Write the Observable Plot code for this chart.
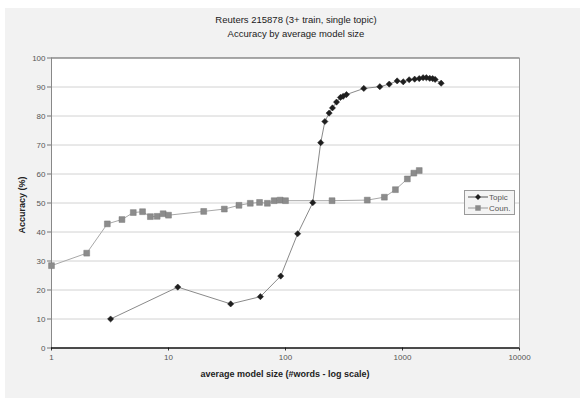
<!DOCTYPE html>
<html>
<head>
<meta charset="utf-8">
<script src="https://cdn.jsdelivr.net/npm/d3@7"></script>
<script src="https://cdn.jsdelivr.net/npm/@observablehq/plot@0.6"></script>
<style>
  html, body { margin: 0; padding: 0; background: #ffffff; width: 580px; height: 398px; overflow: hidden; font-family: "Liberation Sans", Arial, sans-serif; }
  #panel { position: absolute; left: 5px; top: 8px; right: 0; bottom: 0; background: #f2f2f2; }
  #title { position: absolute; left: 0; width: 592px; top: 13px; text-align: center; font-size: 9.5px; line-height: 13.5px; color: #1a1a1a; }
  #chart { position: absolute; left: 0; top: 40px; }
  #xlabel { position: absolute; left: 0; width: 570px; top: 369px; text-align: center; font-size: 9px; font-weight: bold; color: #222; }
  #ylabel { position: absolute; left: 22px; top: 205px; transform: translate(-50%, -50%) rotate(-90deg); font-size: 9px; font-weight: bold; color: #222; white-space: nowrap; }
  #legend { position: absolute; left: 464px; top: 190px; width: 49px; height: 23px; border: 1px solid #9a9a9a; background: #f4f4f4; }
</style>
</head>
<body>
<div id="panel"></div>
<div id="title">Reuters 215878 (3+ train, single topic)<br>Accuracy by average model size</div>
<div id="chart"></div>
<div id="xlabel">average model size (#words - log scale)</div>
<div id="ylabel">Accuracy (%)</div>
<div id="legend"></div>
<script>
// Data
const topicSize = [3.2, 12, 34, 61, 91, 127, 171, 200, 217, 236, 252, 273, 295, 311, 332, 467, 640, 770, 900, 1015, 1140, 1270, 1390, 1500, 1600, 1710, 1810, 1900, 2140];
const topicAcc  = [10, 21, 15.2, 17.7, 24.8, 39.4, 50.1, 70.8, 78.1, 81, 82.8, 84.8, 86.4, 86.8, 87.4, 89.5, 90.1, 91, 92.1, 91.8, 92.5, 92.7, 92.9, 93.2, 93.2, 93, 92.9, 92.6, 91.3];
const countSize = [1, 2, 3, 4, 5, 6, 7, 8, 9, 10, 20, 30, 40, 50, 60, 70, 80, 90, 100, 250, 500, 700, 870, 1100, 1250, 1390];
const countAcc  = [28.4, 32.7, 42.8, 44.3, 46.7, 47.0, 45.3, 45.4, 46.3, 45.8, 47.1, 47.9, 49.2, 49.9, 50.2, 49.9, 50.8, 51.0, 50.8, 50.8, 51.0, 52.0, 54.6, 58.3, 60.3, 61.2];
const xTicks = [1, 10, 100, 1000, 10000];
const yTicks = [0, 10, 20, 30, 40, 50, 60, 70, 80, 90, 100];
const seriesNames = ["Topic", "Coun."];

const topic = topicSize.map((s, i) => ({size: s, acc: topicAcc[i]}));
const count = countSize.map((s, i) => ({size: s, acc: countAcc[i]}));

const plot = Plot.plot({
  width: 580,
  height: 358,
  marginLeft: 51,
  marginRight: 61,
  marginTop: 17.5,
  marginBottom: 50.5,
  style: {background: "transparent", fontFamily: "Liberation Sans, Arial, sans-serif", fontSize: "8px", color: "#555"},
  x: {type: "log", domain: [1, 10000]},
  y: {domain: [0, 100]},
  marks: [
    Plot.frame({fill: "white", stroke: "none"}),
    Plot.ruleY(yTicks.filter(d => d > 0 && d < 100), {stroke: "#d2d2d2", strokeWidth: 1}),
    Plot.ruleY([100], {stroke: "#555", strokeWidth: 1}),
    Plot.ruleX([10000], {stroke: "#999", strokeWidth: 1}),
    Plot.ruleX([1], {stroke: "#888", strokeWidth: 1}),
    Plot.axisY({ticks: yTicks, tickSize: 4, tickPadding: 2, label: null, stroke: "#777", fill: "#555"}),
    Plot.axisX({ticks: xTicks, tickFormat: d => String(d), tickSize: 3, tickPadding: 3, label: null, stroke: "#333", fill: "#555"}),
    Plot.line(count, {x: "size", y: "acc", stroke: "#a8a8a8", strokeWidth: 1}),
    Plot.dot(count, {x: "size", y: "acc", symbol: "square", r: 3.3, fill: "#8c8c8c", stroke: "#7a7a7a", strokeWidth: 0.5}),
    Plot.line(topic, {x: "size", y: "acc", stroke: "#8a8a8a", strokeWidth: 1}),
    Plot.dot(topic, {x: "size", y: "acc", symbol: "diamond2", r: 2.8, fill: "#1e1e1e", stroke: "#1e1e1e", strokeWidth: 0.5}),
    Plot.ruleY([0], {stroke: "#111", strokeWidth: 1.6})
  ]
});
document.getElementById("chart").appendChild(plot);

// Legend
const lg = d3.select("#legend").append("svg").attr("width", 49).attr("height", 23);
const rows = [
  {name: seriesNames[0], line: "#555", fill: "#1e1e1e", sym: d3.symbolDiamond2, size: 22},
  {name: seriesNames[1], line: "#999", fill: "#8c8c8c", sym: d3.symbolSquare, size: 30}
];
rows.forEach((r, i) => {
  const y = 6 + i * 11;
  lg.append("line").attr("x1", 3).attr("x2", 23).attr("y1", y).attr("y2", y).attr("stroke", r.line);
  lg.append("path").attr("d", d3.symbol(r.sym, r.size)()).attr("transform", `translate(13,${y})`).attr("fill", r.fill);
  lg.append("text").attr("x", 24).attr("y", y + 3).text(r.name)
    .attr("font-size", "8px").attr("fill", "#555").attr("font-family", "Liberation Sans, Arial, sans-serif");
});
</script>
</body>
</html>
